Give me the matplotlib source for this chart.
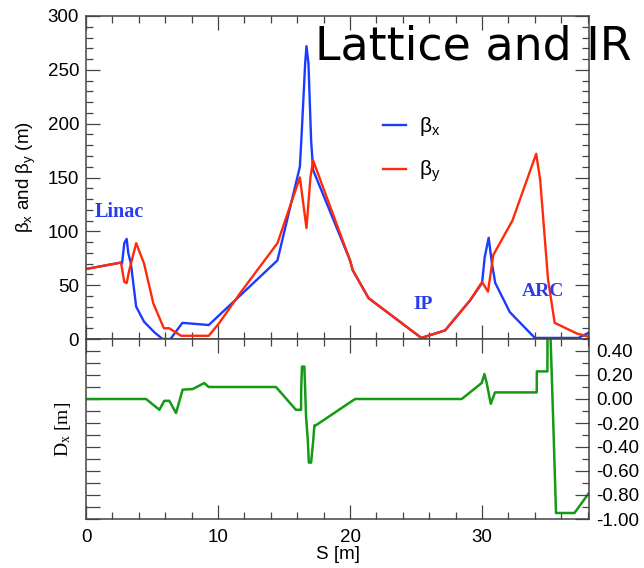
import matplotlib.pyplot as plt
from matplotlib.ticker import MultipleLocator, FormatStrFormatter

plt.rcParams['font.family'] = ['Liberation Sans', 'DejaVu Sans']
plt.rcParams['axes.unicode_minus'] = False
plt.rcParams['mathtext.default'] = 'regular'

# beta_x (blue)
s_bx = [0, 2.65, 2.73, 2.9, 3.08, 3.2, 3.4, 3.8, 4.4, 5.2, 5.8, 6.4, 7.3, 9.3,
        14.5, 16.2, 16.35, 16.6, 16.7, 16.85, 17.05, 17.2, 20.0, 20.2, 21.4,
        25.4, 27.2, 29.1, 30.0, 30.2, 30.5, 30.75, 31.0, 32.1, 34.0, 37.3, 38.1]
beta_x = [65, 71, 70, 89, 93, 80, 70, 30, 16, 6, 0, 0, 15, 13,
          73, 160, 194, 256, 272, 256, 185, 157, 73, 64, 38,
          1, 8, 36, 52, 76, 94, 70, 52, 25, 1, 1, 6]

# beta_y (red)
s_by = [0, 2.65, 2.9, 3.08, 3.28, 3.8, 4.4, 5.1, 5.9, 6.3, 7.2, 9.3, 10.1,
        11.7, 14.5, 16.2, 16.7, 17.0, 17.2, 20.0, 20.2, 21.4, 25.4, 27.2,
        29.1, 30.0, 30.45, 30.85, 32.3, 34.1, 34.4, 35.0, 35.5, 37.2, 38.1]
beta_y = [65, 71, 53, 52, 64, 89, 70, 33, 10, 10, 3, 3, 15,
          43, 89, 150, 103, 150, 166, 73, 64, 38, 1, 8,
          36, 53, 44, 78, 110, 172, 148, 55, 15, 5, 2]

# dispersion D_x (green)
s_dx = [0, 4.55, 5.56, 5.93, 6.31, 6.82, 7.32, 8.08, 8.96, 9.29, 14.39,
        15.9, 16.29, 16.3, 16.36, 16.54, 16.67, 16.8, 16.88, 17.05, 17.2,
        17.3, 17.4, 20.38, 28.46, 29.97, 30.18, 30.35, 30.66, 30.98, 34.14,
        34.15, 34.95, 34.96, 35.1, 35.3, 35.45, 35.6, 37.0, 38.05]
d_x = [0, 0, -0.09, -0.015, -0.015, -0.117, 0.078, 0.083, 0.133, 0.10, 0.10,
       -0.09, -0.09, 0.08, 0.27, 0.27, -0.15, -0.34, -0.53, -0.53, -0.36,
       -0.22, -0.22, 0, 0, 0.133, 0.208, 0.133, -0.04, 0.055, 0.055,
       0.23, 0.23, 0.8, 0.8, 0.13, -0.4, -0.95, -0.95, -0.79]

fig = plt.figure(figsize=(6.44, 5.68), dpi=100)
ax1 = fig.add_axes([86/644, 1-339/568, 503/644, 323/568])
ax2 = fig.add_axes([86/644, 1-519/568, 503/644, 180/568])

ax1.plot(s_bx, beta_x, color='#1a3cff', lw=1.7, label='β$_x$')
ax1.plot(s_by, beta_y, color='#ff2a0a', lw=1.7, label='β$_y$')
ax2.plot(s_dx, d_x, color='#159a15', lw=1.8)

ax1.set_xlim(0, 38.1)
ax1.set_ylim(0, 300)
ax2.set_xlim(0, 38.1)
ax2.set_ylim(-1.0, 0.5)

for ax in (ax1, ax2):
    for sp in ax.spines.values():
        sp.set_color('#444444')
        sp.set_linewidth(1.1)
    ax.xaxis.set_major_locator(MultipleLocator(10))
    ax.xaxis.set_minor_locator(MultipleLocator(2))
    ax.tick_params(which='both', direction='in', top=True, right=True,
                   color='#444444', width=0.9, labelsize=13.5)
    ax.tick_params(which='major', length=10)
    ax.tick_params(which='minor', length=5)

ax1.yaxis.set_major_locator(MultipleLocator(50))
ax1.yaxis.set_minor_locator(MultipleLocator(10))
ax1.tick_params(labelbottom=False, pad=5)

ax2.yaxis.set_major_locator(MultipleLocator(0.1))
ax2.tick_params(axis='y', labelleft=False, right=False)
ax2.tick_params(axis='x', pad=7)

ax2r = ax2.twinx()
ax2r.set_ylim(-1.0, 0.5)
ax2r.yaxis.set_major_locator(MultipleLocator(0.2))
ax2r.yaxis.set_minor_locator(MultipleLocator(0.1))
ax2r.yaxis.set_major_formatter(FormatStrFormatter('%.2f'))
for sp in ax2r.spines.values():
    sp.set_visible(False)
ax2r.tick_params(which='both', direction='in', color='#444444', width=0.9,
                 labelsize=13.5, pad=5)
ax2r.tick_params(which='major', length=10)
ax2r.tick_params(which='minor', length=5)

ax1.set_ylabel('β$_x$ and β$_y$ (m)', fontsize=13.5)
ax1.yaxis.set_label_coords(-0.095, 0.5)
ax2.set_ylabel('D$_x$ [m]', fontsize=14, family='Liberation Serif')
ax2.yaxis.set_label_coords(-0.025, 0.5)
ax2.set_xlabel('S [m]', fontsize=13.5)
ax2.xaxis.set_label_coords(0.5, -0.15)

blue_txt = '#2a3cf0'
ax1.text(0.68, 118, 'Linac', color=blue_txt, family='Liberation Serif',
         fontweight='bold', fontsize=14.5, va='center')
ax1.text(24.8, 32, 'IP', color=blue_txt, family='Liberation Serif',
         fontweight='bold', fontsize=14, va='center')
ax1.text(33.0, 44, 'ARC', color=blue_txt, family='Liberation Serif',
         fontweight='bold', fontsize=14, va='center')

ax1.legend(frameon=False, loc='upper left', bbox_to_anchor=(383/644, 1-115/568),
           bbox_transform=fig.transFigure, fontsize=15, handlelength=1.1,
           handletextpad=0.65, labelspacing=1.0, borderpad=0, borderaxespad=0)

fig.text(315/644, 1-60/568, 'Lattice and IR', fontsize=33,
         family='DejaVu Sans', va='baseline')

fig.savefig('out.png', dpi=100)
